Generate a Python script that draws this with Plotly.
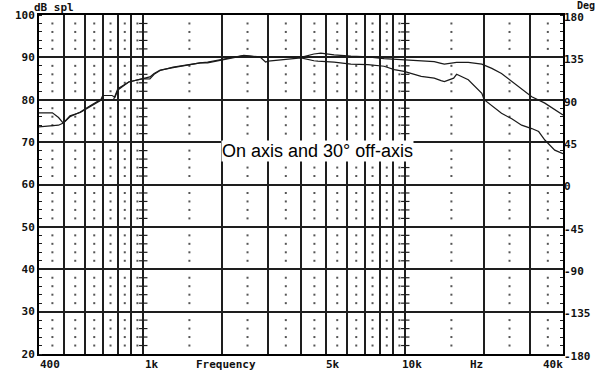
import math
import plotly.graph_objects as go

# ---- data ----
on_freq = [400, 450, 475, 495, 525, 575, 625, 690, 700, 760, 780, 800, 880, 1000, 1060, 1100,
           1160, 1300, 1500, 1650, 1760, 2000, 2250, 2420, 2800, 3000, 3350, 4000, 4480, 4760,
           5350, 6200, 7200, 8300, 9900, 11500, 12900, 13700, 14100, 15700, 17400, 19600, 21400,
           23300, 25500, 27800, 30400, 34100, 37200, 40000]
on_db = [76.9, 76.9, 75.8, 74.5, 76.0, 77.1, 78.5, 80.1, 81.0, 81.0, 80.6, 82.3, 84.2, 85.1, 85.4,
         86.2, 87.0, 87.6, 88.3, 88.7, 88.9, 89.5, 90.1, 90.5, 90.1, 90.0, 90.0, 90.0, 90.8, 91.0,
         90.6, 90.3, 90.1, 89.7, 89.4, 89.2, 89.0, 88.6, 88.4, 88.8, 88.8, 88.4, 87.4, 86.2, 84.3,
         82.7, 80.7, 79.2, 77.6, 76.4]

off_freq = [400, 450, 475, 495, 525, 575, 625, 690, 720, 770, 800, 880, 1000, 1060, 1100, 1160,
            1300, 1500, 1650, 1760, 2000, 2250, 2420, 2800, 2930, 3000, 3350, 3440, 4000, 4480,
            4640, 5350, 6200, 7200, 8300, 9080, 9900, 11500, 12900, 13700, 14100, 15300, 15700,
            17400, 19600, 20000, 21400, 23300, 25500, 27800, 30400, 32300, 34100, 37200, 40000]
off_db = [73.6, 73.8, 74.0, 74.5, 76.2, 77.0, 78.4, 79.9, 80.0, 80.0, 82.6, 84.2, 85.0, 84.9, 86.0,
          86.9, 87.7, 88.4, 88.7, 88.7, 89.4, 90.0, 90.4, 90.0, 88.9, 89.1, 89.4, 89.6, 89.9, 89.2,
          89.1, 88.9, 88.4, 88.3, 87.9, 87.1, 86.7, 85.5, 85.1, 84.5, 84.3, 85.1, 86.0, 84.7, 81.5,
          80.0, 78.5, 76.8, 75.5, 74.0, 73.2, 72.5, 70.5, 68.1, 67.3]

x_major = [500, 600, 700, 800, 900, 1000, 2000, 3000, 4000, 5000, 6000, 7000, 8000, 9000,
           10000, 20000, 30000]
x_minor = [450, 550, 650, 750, 850, 950, 1500, 2500, 3500, 4500, 5500, 6500, 7500, 8500, 9500,
           15000, 25000, 35000]
y_major = [20, 30, 40, 50, 60, 70, 80, 90, 100]
y_minor = [v for v in range(22, 100, 2) if v % 10 != 0]
deg_ticks = [-180, -135, -90, -45, 0, 45, 90, 135, 180]
x_labels = [(400, "400", "left", -1), (1000, "1k", "left", 0), (1568, "Frequency", "left", 0),
            (5000, "5k", "left", -2), (10000, "10k", "left", -5), (17400, "Hz", "left", 0),
            (40000, "40k", "right", 2)]

LINE = "#1e1e1e"
LAB = dict(family="DejaVu Sans Mono", size=11, color="#111", weight="bold")
SMALL = dict(family="DejaVu Sans Mono", size=10, color="#111", weight="bold")

fig = go.Figure()

# minor dot grid
dx, dy = [], []
for f in x_minor:
    for v in y_minor:
        dx.append(f)
        dy.append(v)
fig.add_trace(go.Scatter(x=dx, y=dy, mode="markers", hoverinfo="skip",
                         marker=dict(symbol="square", size=2, color="#555", line=dict(width=0))))
# small ticks on decade lines
tx, ty = [], []
for f in [1000, 10000]:
    for v in y_minor:
        tx.append(f)
        ty.append(v)
fig.add_trace(go.Scatter(x=tx, y=ty, mode="markers", hoverinfo="skip",
                         marker=dict(symbol="line-ew", size=6, line=dict(width=1.2, color=LINE))))

fig.add_trace(go.Scatter(x=on_freq, y=on_db, mode="lines", name="On axis",
                         line=dict(color="#1a1a1a", width=1.2)))
fig.add_trace(go.Scatter(x=off_freq, y=off_db, mode="lines", name="30° off-axis",
                         line=dict(color="#1a1a1a", width=1.2)))
# dummy trace for right axis
fig.add_trace(go.Scatter(x=[400], y=[0], yaxis="y2", mode="markers", opacity=0,
                         hoverinfo="skip"))

fig.update_layout(
    width=600, height=386,
    margin=dict(l=39, r=37, t=15, b=32, autoexpand=False),
    paper_bgcolor="white", plot_bgcolor="white",
    showlegend=False,
    xaxis=dict(type="log", range=[math.log10(400), math.log10(40000)],
               tickmode="array", tickvals=x_major, showticklabels=False, ticks="",
               showgrid=True, gridcolor=LINE, gridwidth=1.6, automargin=False,
               showline=True, linecolor="#000", linewidth=2, mirror=True, zeroline=False),
    yaxis=dict(range=[20, 100], tickmode="array", tickvals=y_major,
               ticktext=[str(v) for v in y_major], tickfont=LAB, automargin=False,
               showgrid=True, gridcolor=LINE, gridwidth=1.6, zeroline=False,
               showline=True, linecolor="#000", linewidth=2, mirror=True, ticks="",
               minor=dict(tickmode="linear", tick0=20, dtick=2, ticks="inside", ticklen=3,
                          tickcolor=LINE, showgrid=False)),
    yaxis2=dict(range=[-180, 180], overlaying="y", side="right", tickmode="array",
                tickvals=deg_ticks, ticktext=[str(v) for v in deg_ticks],
                tickfont=LAB, automargin=False, ticklabelshift=2,
                showgrid=False, zeroline=False, ticks="",
                minor=dict(tickmode="linear", tick0=-180, dtick=9, ticks="inside", ticklen=3,
                           tickcolor=LINE, showgrid=False)),
)

anns = []
for f, txt, anc, sh in x_labels:
    anns.append(dict(x=math.log10(f), xref="x", y=0, yref="paper", yanchor="middle",
                     yshift=-10, xanchor=anc, xshift=sh, text=txt, showarrow=False, font=LAB))
anns.append(dict(x=0, xref="paper", y=1, yref="paper", xanchor="left", xshift=-6,
                 yanchor="top", yshift=15, borderpad=0, text="dB spl", showarrow=False,
                 font=LAB))
anns.append(dict(x=1, xref="paper", y=1, yref="paper", xanchor="right", xshift=33,
                 yanchor="top", yshift=16, borderpad=0, text="Deg", showarrow=False,
                 font=SMALL))
anns.append(dict(x=math.log10(4642), xref="x", y=67.8, yref="y", text="On axis and 30° off-axis",
                 showarrow=False, bgcolor="white", borderpad=0,
                 font=dict(family="Liberation Sans", size=18, color="#000")))
fig.update_layout(annotations=anns)

fig.write_html("out.html", config={"displayModeBar": False},
               post_script="document.body.style.margin='0';document.body.style.padding='0';")
